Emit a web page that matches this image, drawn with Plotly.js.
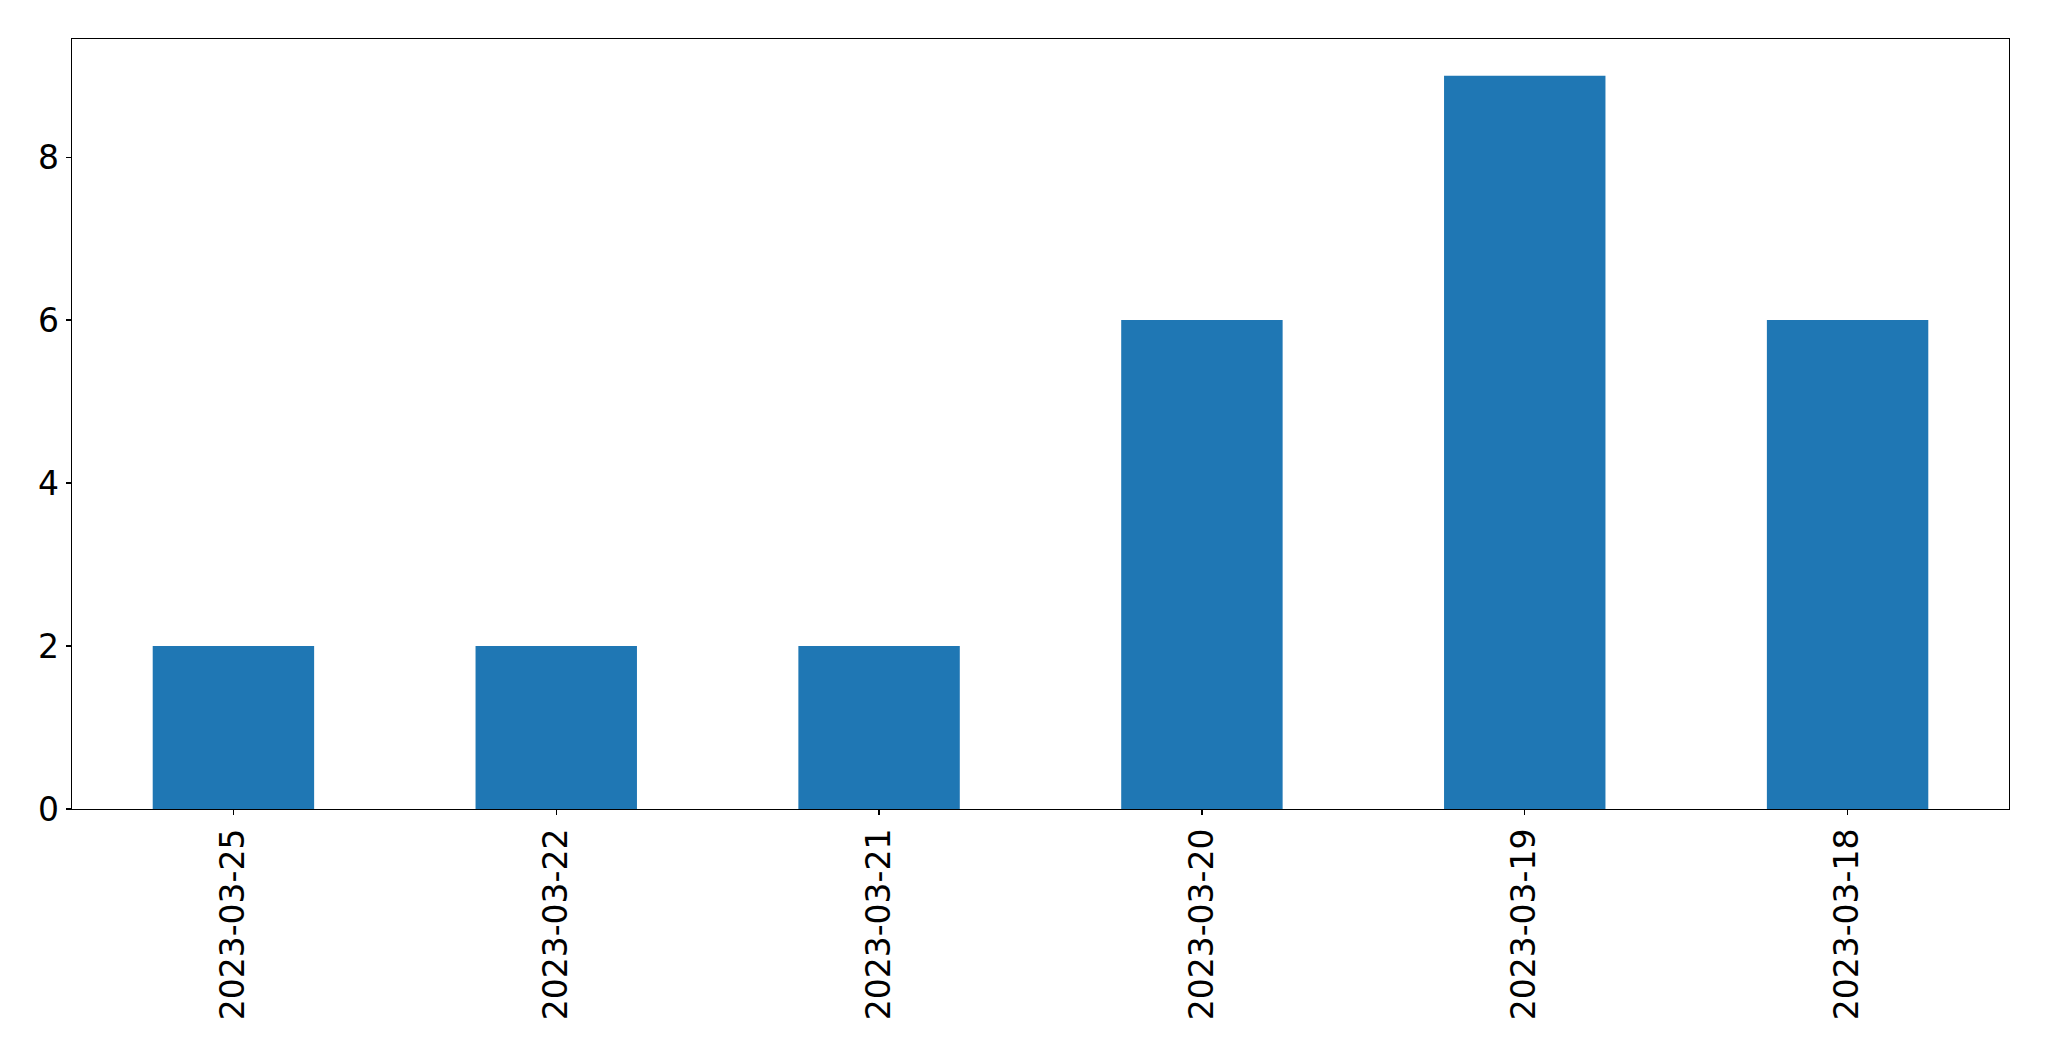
<!DOCTYPE html>
<html>
<head>
<meta charset="utf-8">
<script src="https://cdn.plot.ly/plotly-3.0.1.min.js"></script>
<style>html,body{margin:0;padding:0;background:#fff;}#chart{width:2049px;height:1061px;}</style>
</head>
<body>
<div id="chart"></div>
<script>
const categories = ["2023-03-25", "2023-03-22", "2023-03-21", "2023-03-20", "2023-03-19", "2023-03-18"];
const counts = [2, 2, 2, 6, 9, 6];
const yTicks = [0, 2, 4, 6, 8];

const trace = {
  type: "bar",
  x: categories.map((_, i) => i),
  y: counts,
  width: 0.5,
  marker: {color: "#1f77b4", line: {width: 0}},
  hoverinfo: "x+y"
};

const axisCommon = {
  showline: true, mirror: true, linecolor: "#000", linewidth: 1.3,
  ticks: "outside", ticklen: 5, tickwidth: 1.3, tickcolor: "#000",
  showgrid: false, zeroline: false,
  tickfont: {family: "DejaVu Sans, sans-serif", size: 33, color: "#000"}
};

const layout = {
  width: 2049, height: 1061,
  margin: {l: 72, r: 40, t: 39, b: 252, pad: 0},
  paper_bgcolor: "#fff", plot_bgcolor: "#fff",
  showlegend: false,
  xaxis: Object.assign({}, axisCommon, {
    range: [-0.5, categories.length - 0.5],
    tickmode: "array",
    tickvals: categories.map((_, i) => i),
    ticktext: categories,
    tickangle: -90
  }),
  yaxis: Object.assign({}, axisCommon, {
    range: [0, 9.45],
    tickmode: "array",
    tickvals: yTicks,
    ticktext: yTicks.map(String)
  })
};

Plotly.newPlot("chart", [trace], layout, {displayModeBar: false, staticPlot: true});
</script>
</body>
</html>
